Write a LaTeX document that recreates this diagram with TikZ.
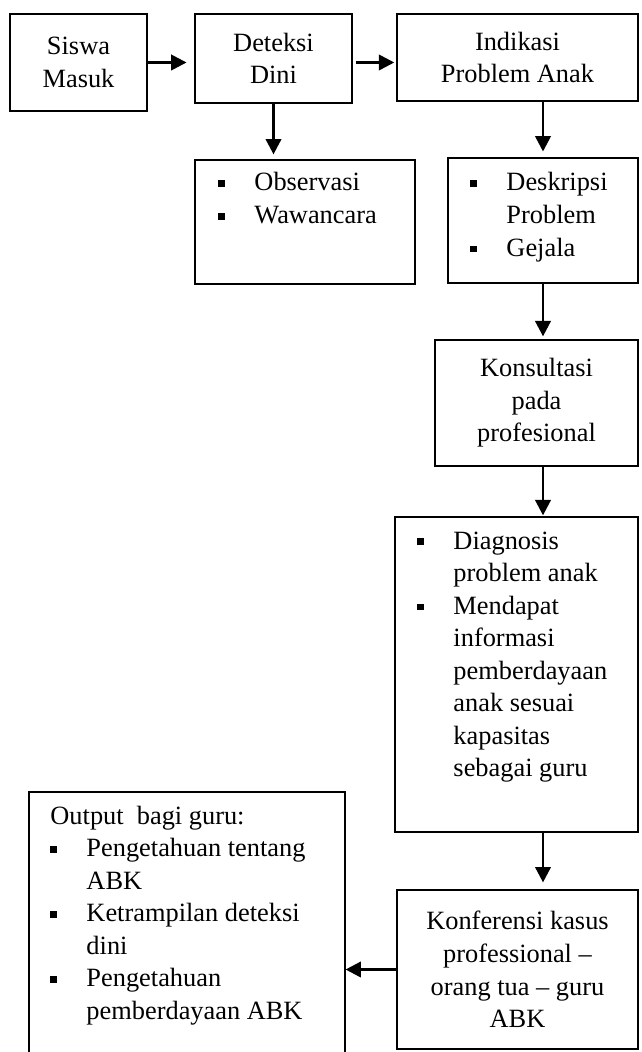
\documentclass[tikz,border=0pt]{standalone}
\usepackage{fontspec}
\setmainfont{Liberation Serif}
\usetikzlibrary{arrows.meta, calc}

\def\px{0.455pt}
\newcommand{\bul}{\rule[1.8pt]{3pt}{3pt}}

\tikzset{
	kotak/.style={draw, rectangle, line width=0.5pt, align=center, inner sep=0pt},
	daftar/.style={inner sep=0pt, anchor=base west, align=left},
	panah/.style={->, very thick, >={Triangle[length=7pt, width=7pt]}},
}

\begin{document}
\begin{tikzpicture}[x=\px, y=-\px, font=\fontsize{12pt}{14.8pt}\selectfont]
	\useasboundingbox (0,0) rectangle (641,1052);
	\clip (0,0) rectangle (641,1052);

	% baris atas
	\node[kotak, minimum width=137*\px, minimum height=97*\px] (siswa) at (78.5,62.5)
		{Siswa\\Masuk};
	\node[kotak, minimum width=157*\px, minimum height=89*\px] (deteksi) at (273.5,58.5)
		{Deteksi\\Dini};
	\node[kotak, minimum width=241*\px, minimum height=87*\px] (indikasi) at (517.5,57.5)
		{Indikasi\\Problem Anak};

	% kotak daftar
	\node[kotak, minimum width=220*\px, minimum height=124*\px] (observasi) at (305,222) {};
	\node[daftar] (obsteks) at (218,191)
		{\begin{tabular}[t]{@{}p{16.4pt}@{}l@{}}
			\bul & Observasi\\
			\bul & Wawancara
		\end{tabular}};

	\node[kotak, minimum width=190*\px, minimum height=125*\px] (deskripsi) at (543,220.5) {};
	\node[daftar] (deskteks) at (470,191)
		{\begin{tabular}[t]{@{}p{16.4pt}@{}l@{}}
			\bul & Deskripsi\\
			     & Problem\\
			\bul & Gejala
		\end{tabular}};

	\node[kotak, minimum width=203*\px, minimum height=126*\px] (konsultasi) at (536.5,403)
		{Konsultasi\\pada\\profesional};

	\node[kotak, minimum width=243*\px, minimum height=315*\px] (diagnosis) at (516.5,674.5) {};
	\node[daftar] (diagteks) at (417,549)
		{\begin{tabular}[t]{@{}p{16.4pt}@{}l@{}}
			\bul & Diagnosis\\
			     & problem anak\\
			\bul & Mendapat\\
			     & informasi\\
			     & pemberdayaan\\
			     & anak sesuai\\
			     & kapasitas\\
			     & sebagai guru
		\end{tabular}};

	\node[kotak, minimum width=241*\px, minimum height=159*\px] (konferensi) at (517.5,969.5)
		{Konferensi kasus\\professional --\\orang tua -- guru\\ABK};

	\node[kotak, minimum width=316*\px, minimum height=268*\px] (output) at (187,926) {};
	\node[daftar] (outteks) at (50,824)
		{\begin{tabular}[t]{@{}p{16.4pt}@{}l@{}}
			\multicolumn{2}{@{}l@{}}{Output\ \ bagi guru:}\\
			\bul & Pengetahuan tentang\\
			     & ABK\\
			\bul & Ketrampilan deteksi\\
			     & dini\\
			\bul & Pengetahuan\\
			     & pemberdayaan ABK
		\end{tabular}};

	% panah
	\draw[panah, shorten >=3.6pt] (siswa.east) -- (siswa.east -| deteksi.west);
	\draw[panah, shorten <=1.4pt, shorten >=1pt] (siswa.east -| deteksi.east) -- (siswa.east -| indikasi.west);
	\draw[panah, shorten >=2.3pt] (deteksi.south) -- (deteksi.south |- observasi.north);
	\draw[panah, shorten >=2.7pt] (indikasi.south -| deskripsi.north) -- (deskripsi.north);
	\draw[panah, shorten >=1.4pt] (deskripsi.south) -- (deskripsi.south |- konsultasi.north);
	\draw[panah, shorten >=0.5pt] (konsultasi.south -| deskripsi.south) -- (deskripsi.south |- diagnosis.north);
	\draw[panah, shorten >=3.2pt] (diagnosis.south -| deskripsi.south) -- (deskripsi.south |- konferensi.north);
	\draw[panah] (konferensi.west) -- (konferensi.west -| output.east);
\end{tikzpicture}
\end{document}
